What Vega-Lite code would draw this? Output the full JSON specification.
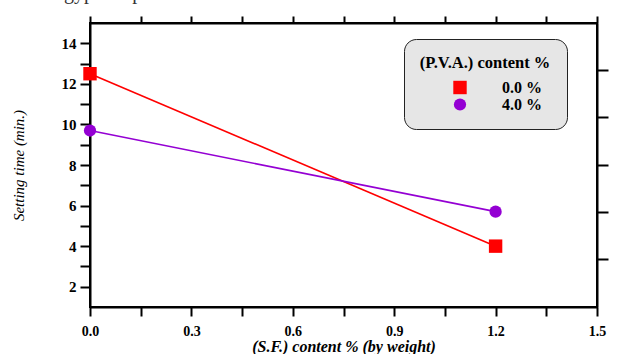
{
  "$schema": "https://vega.github.io/schema/vega-lite/v6.json",
  "width": 507,
  "height": 284,
  "autosize": {"type": "none"},
  "padding": {"left": 90, "top": 23, "right": 20, "bottom": 47},
  "background": "white",
  "data": {"values": [
    {"sf": 0.0, "time": 12.5, "pva": "0.0 %"},
    {"sf": 1.2, "time": 4.0, "pva": "0.0 %"},
    {"sf": 0.0, "time": 9.7, "pva": "4.0 %"},
    {"sf": 1.2, "time": 5.7, "pva": "4.0 %"}
  ]},
  "config": {
    "view": {"stroke": "black", "strokeWidth": 2},
    "axis": {"domainColor": "black", "domainWidth": 2, "tickColor": "black", "tickWidth": 2, "labelFont": "Liberation Serif", "labelFontSize": 13, "labelFontWeight": "bold", "labelColor": "black", "titleFont": "Liberation Serif", "titleColor": "black", "grid": false, "labelFlush": false, "labelOverlap": false, "offset": 0}
  },
  "layer": [
    {
      "mark": {"type": "line", "strokeWidth": 1.6},
      "encoding": {
        "x": {"field": "sf", "type": "quantitative", "scale": {"domain": [0, 1.5], "nice": false, "zero": false},
          "axis": {"orient": "bottom", "offset": 0, "values": [0, 0.15, 0.3, 0.45, 0.6, 0.75, 0.9, 1.05, 1.2, 1.35, 1.5],
            "labelExpr": "round(datum.value*20)%6===0 ? format(datum.value,'.1f') : ''",
            "tickSize": 9, "labelPadding": 8, "labelFontSize": 14,
            "title": "(S.F.) content % (by weight)", "titleFontSize": 16, "titleFontWeight": "bold", "titleFontStyle": "italic", "titlePadding": 0,
            "encode": {
              "ticks": {"update": {"y2": {"signal": "round(datum.value*20)%6===0 ? 9 : 5"}}},
              "domain": {"update": {"x": {"value": -6}, "x2": {"signal": "width+6"}}}
            }}},
        "y": {"field": "time", "type": "quantitative", "scale": {"domain": [1, 15], "nice": false, "zero": false},
          "axis": {"orient": "left", "offset": 0, "values": [2, 3, 4, 5, 6, 7, 8, 9, 10, 11, 12, 13, 14],
            "labelExpr": "datum.value%2===0 ? datum.label : ''",
            "tickSize": 10, "labelPadding": 4, "labelFontSize": 15,
            "title": "Setting time (min.)", "titleFontSize": 15, "titleFontWeight": "normal", "titleFontStyle": "italic", "titlePadding": 35,
            "encode": {
              "ticks": {"update": {"x2": {"signal": "datum.value%2===0 ? -10 : -5"}}},
              "domain": {"update": {"y": {"value": -7}, "y2": {"signal": "height+8"}}}
            }}},
        "color": {"field": "pva", "type": "nominal", "scale": {"domain": ["0.0 %", "4.0 %"], "range": ["#ff0000", "#9400d3"]}, "legend": null}
      }
    },
    {
      "mark": {"type": "point", "filled": true, "opacity": 1},
      "encoding": {
        "x": {"field": "sf", "type": "quantitative",
          "axis": {"orient": "top", "offset": 0, "values": [0, 0.15, 0.3, 0.45, 0.6, 0.75, 0.9, 1.05, 1.2, 1.35, 1.5], "labels": false, "title": null, "tickSize": 7,
            "encode": {
              "ticks": {"update": {"y2": {"signal": "round(datum.value*20)%6===0 ? -7 : -4"}}},
              "domain": {"update": {"x": {"value": -6}, "x2": {"signal": "width+6"}}}
            }}},
        "y": {"field": "time", "type": "quantitative",
          "axis": {"orient": "right", "offset": 0, "values": [3.38, 5.69, 8.0, 10.36, 12.67], "labels": false, "tickSize": 11,
            "title": "of local gypsum plaster.", "titleFont": "Liberation Serif", "titleFontSize": 20, "titleFontWeight": "normal", "titleColor": "#333333",
            "titleAngle": 0, "titleAlign": "left", "titleBaseline": "alphabetic", "titleX": -599, "titleY": -25,
            "encode": {
              "ticks": {"update": {"x2": {"signal": "abs(datum.value-5.69)<0.01 || abs(datum.value-10.36)<0.01 ? 11 : 6"}}},
              "domain": {"update": {"y": {"value": -7}, "y2": {"signal": "height+8"}}}
            }}},
        "color": {"field": "pva", "type": "nominal",
          "legend": {"title": "(P.V.A.) content %", "orient": "none", "legendX": 314, "legendY": 16,
            "padding": 16, "fillColor": "#e6e6e6", "strokeColor": "#222222", "cornerRadius": 12,
            "titleFont": "Liberation Serif", "titleFontSize": 16.5, "titleFontWeight": "bold", "titleColor": "black", "titleAnchor": "middle", "titlePadding": 8,
            "labelFont": "Liberation Serif", "labelFontSize": 16, "labelFontWeight": "bold", "labelColor": "black",
            "symbolSize": 225, "symbolStrokeWidth": 2, "labelOffset": 34, "symbolOffset": 25, "rowPadding": 1,
            "encode": {
              "legend": {"update": {"strokeWidth": {"value": 1.5}}},
              "symbols": {"update": {
                "shape": {"signal": "datum.value === '0.0 %' ? 'M-3.5,0H-1.2M1.2,0H3.5M-1.2,-1H1.2V1H-1.2Z' : 'M-3.5,0H-1M1,0H3.5M1,0A1,1,0,1,1,-1,0A1,1,0,1,1,1,0Z'"},
                "fill": {"signal": "scale('color', datum.value)"},
                "stroke": {"signal": "scale('color', datum.value)"},
                "strokeWidth": {"value": 2},
                "opacity": {"value": 1}
              }}
            }}},
        "shape": {"field": "pva", "type": "nominal", "scale": {"domain": ["0.0 %", "4.0 %"], "range": ["square", "circle"]}, "legend": null},
        "size": {"field": "pva", "type": "nominal", "scale": {"domain": ["0.0 %", "4.0 %"], "range": [180, 150]}, "legend": null}
      }
    }
  ],
  "resolve": {"axis": {"x": "independent", "y": "independent"}, "legend": {"color": "independent", "shape": "independent", "size": "independent"}}
}
